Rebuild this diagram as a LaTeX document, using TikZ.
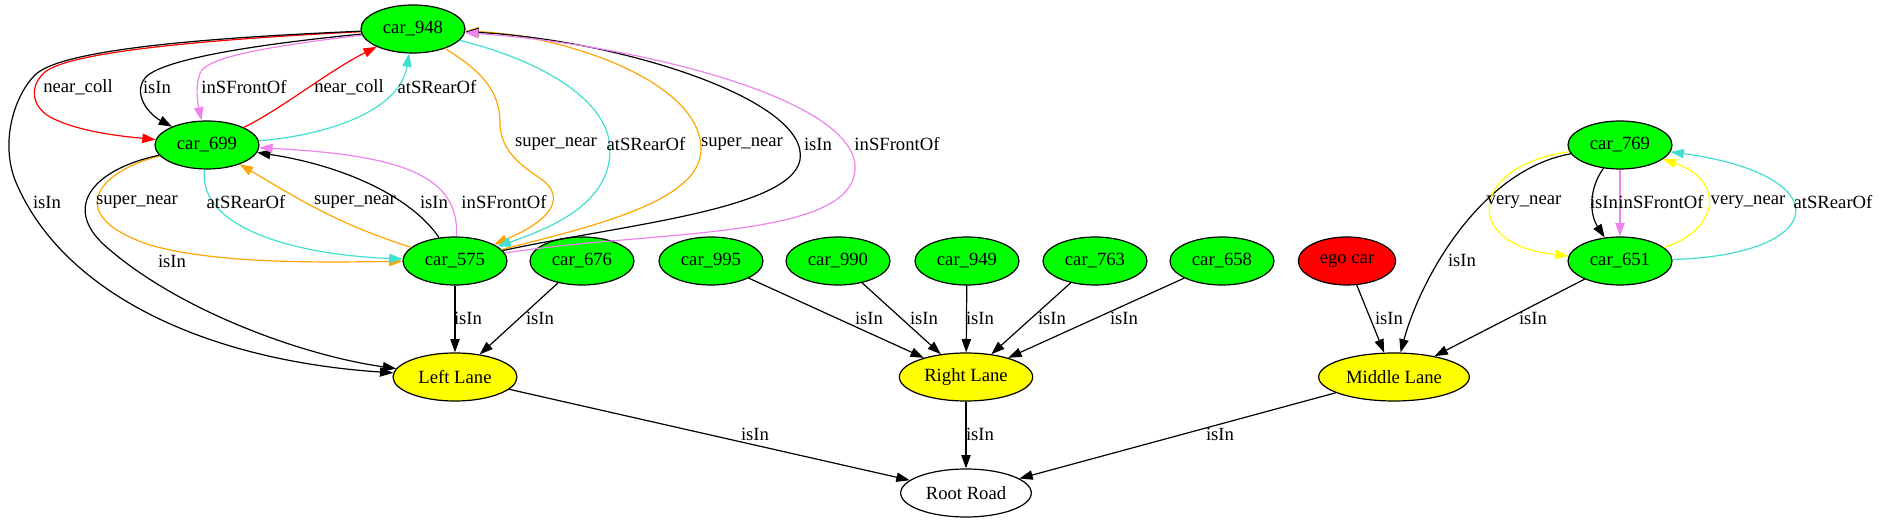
\documentclass[tikz,border=0pt]{standalone}
\usepackage{fontspec}
\setmainfont{Liberation Serif}
\usetikzlibrary{shapes.geometric,arrows.meta}
\definecolor{gvgreen}{HTML}{00FF00}
\definecolor{gvyellow}{HTML}{FFFF00}
\definecolor{gvred}{HTML}{FF0000}
\definecolor{gvviolet}{HTML}{EE82EE}
\definecolor{gvturq}{HTML}{40E0D0}
\definecolor{gvorange}{HTML}{FFA500}
\begin{document}
\begin{tikzpicture}[x=0.75pt,y=-0.75pt,
  every node/.style={font=\fontsize{14}{16}\selectfont},
  gvnode/.style={ellipse,draw=black,line width=0.9pt,minimum height=36pt,inner sep=0pt},
  car/.style={gvnode,fill=gvgreen,minimum width=78pt},
  lane/.style={gvnode,fill=gvyellow},
  conn/.style={line width=0.9pt,-{Triangle[length=10pt,width=7pt]}},
  lbl/.style={inner sep=0pt}
]
\useasboundingbox (0,0) rectangle (1879,523);
% nodes
\node[car] (n948) at (413,29) {car\_948};
\node[car] (n699) at (207,145) {car\_699};
\node[car] (n575) at (455,261) {car\_575};
\node[car] (n676) at (582,261) {car\_676};
\node[car] (n995) at (711,261) {car\_995};
\node[car] (n990) at (838,261) {car\_990};
\node[car] (n949) at (967,261) {car\_949};
\node[car] (n763) at (1095,261) {car\_763};
\node[car] (n658) at (1222,261) {car\_658};
\node[gvnode,fill=gvred,minimum width=73pt] (ego) at (1347,261) {ego car};
\node[car] (n769) at (1620,145) {car\_769};
\node[car] (n651) at (1620,261) {car\_651};
\node[lane,minimum width=93pt] (LL) at (455,377) {Left Lane};
\node[lane,minimum width=100pt] (RL) at (966,377) {Right Lane};
\node[lane,minimum width=113pt] (ML) at (1394,377) {Middle Lane};
\node[gvnode,fill=white,minimum width=98pt] (RR) at (966,493) {Root Road};

% car_948 <-> car_699
\draw[conn,gvred] (n948) .. controls (200,40) and (70,52) .. (45,72) .. controls (30,85) and (30,105) .. (50,117) .. controls (80,133) and (130,137) .. (n699);
\draw[conn,black] (n948) .. controls (250,45) and (160,60) .. (145,78) .. controls (132,95) and (150,115) .. (n699);
\draw[conn,gvviolet] (n948) .. controls (280,45) and (215,55) .. (202,70) .. controls (195,80) and (197,100) .. (n699);
\draw[conn,gvred] (n699) .. controls (280,110) and (330,70) .. (n948);
\draw[conn,gvturq] (n699) .. controls (330,135) and (400,110) .. (n948);
% car_948 <-> car_575
\draw[conn,gvorange] (n948) .. controls (480,70) and (500,90) .. (500,123) .. controls (500,160) and (540,175) .. (548,185) .. controls (565,205) and (540,225) .. (n575);
\draw[conn,gvturq] (n948) .. controls (540,60) and (610,100) .. (610,150) .. controls (610,200) and (560,225) .. (n575);
\draw[conn,gvorange] (n575) .. controls (600,225) and (700,200) .. (701,150) .. controls (702,80) and (560,35) .. (n948);
\draw[conn,black] (n575) .. controls (620,225) and (790,210) .. (800,160) .. controls (810,100) and (620,40) .. (n948);
\draw[conn,gvviolet] (n575) .. controls (650,230) and (850,240) .. (855,170) .. controls (860,100) and (640,45) .. (n948);
% car_699 <-> car_575
\draw[conn,gvorange] (n699) .. controls (100,170) and (60,215) .. (150,245) .. controls (220,265) and (330,262) .. (n575);
\draw[conn,gvturq] (n699) .. controls (198,230) and (300,255) .. (n575);
\draw[conn,gvorange] (n575) .. controls (340,225) and (300,200) .. (n699);
\draw[conn,black] (n575) .. controls (410,195) and (340,165) .. (n699);
\draw[conn,gvviolet] (n575) .. controls (460,175) and (400,155) .. (n699);
% to Left Lane
\draw[conn,black] (n948) .. controls (200,38) and (60,50) .. (35,75) .. controls (15,95) and (0,140) .. (15,180) .. controls (60,290) and (200,360) .. (LL);
\draw[conn,black] (n699) .. controls (90,170) and (60,210) .. (110,250) .. controls (180,310) and (300,355) .. (LL);
\draw[conn] (n575) -- (LL);
\draw[conn] (n676) -- (LL);
% to Right Lane
\draw[conn] (n995) -- (RL);
\draw[conn] (n990) -- (RL);
\draw[conn] (n949) -- (RL);
\draw[conn] (n763) -- (RL);
\draw[conn] (n658) -- (RL);
% to Middle Lane
\draw[conn] (ego) -- (ML);
\draw[conn] (n769) .. controls (1480,170) and (1420,280) .. (ML);
\draw[conn] (n651) -- (ML);
% car_769 <-> car_651
\draw[conn,gvyellow] (n769) .. controls (1470,165) and (1460,245) .. (n651);
\draw[conn,black] (n769) .. controls (1588,190) and (1590,215) .. (n651);
\draw[conn,gvviolet] (n769) -- (n651);
\draw[conn,gvyellow] (n651) .. controls (1720,230) and (1725,180) .. (n769);
\draw[conn,gvturq] (n651) .. controls (1830,255) and (1840,175) .. (n769);
% to Root Road
\draw[conn] (LL) -- (RR);
\draw[conn] (RL) -- (RR);
\draw[conn] (ML) -- (RR);

% labels
\node[lbl] (t1) at (78,87) {near\_coll};
\node[lbl] (t2) at (157,87) {isIn};
\node[lbl] (t3) at (244,87) {inSFrontOf};
\node[lbl] (t4) at (349,87) {near\_coll};
\node[lbl] (t5) at (437,87) {atSRearOf};
\node[lbl] (t6) at (556,144) {super\_near};
\node[lbl] (t7) at (646,144) {atSRearOf};
\node[lbl] (t8) at (742,144) {super\_near};
\node[lbl] (t9) at (818,144) {isIn};
\node[lbl] (t10) at (897,144) {inSFrontOf};
\node[lbl] (t11) at (47,202) {isIn};
\node[lbl] (t12) at (137,202) {super\_near};
\node[lbl] (t13) at (246,202) {atSRearOf};
\node[lbl] (t14) at (355,202) {super\_near};
\node[lbl] (t15) at (434,202) {isIn};
\node[lbl] (t16) at (504,202) {inSFrontOf};
\node[lbl] (t17) at (172,261) {isIn};
\node[lbl] (t18) at (468,318) {isIn};
\node[lbl] (t19) at (540,318) {isIn};
\node[lbl] (t20) at (869,318) {isIn};
\node[lbl] (t21) at (924,318) {isIn};
\node[lbl] (t22) at (980,318) {isIn};
\node[lbl] (t23) at (1052,318) {isIn};
\node[lbl] (t24) at (1124,318) {isIn};
\node[lbl] (t25) at (1389,318) {isIn};
\node[lbl] (t26) at (1533,318) {isIn};
\node[lbl] (t27) at (1462,260) {isIn};
\node[lbl] (t28) at (1524,202) {very\_near};
\node[lbl] (t29) at (1604,202) {isIn};
\node[lbl] (t30) at (1661,202) {inSFrontOf};
\node[lbl] (t31) at (1748,202) {very\_near};
\node[lbl] (t32) at (1833,202) {atSRearOf};
\node[lbl] (t33) at (755,434) {isIn};
\node[lbl] (t34) at (980,434) {isIn};
\node[lbl] (t35) at (1220,434) {isIn};
\end{tikzpicture}
\end{document}
